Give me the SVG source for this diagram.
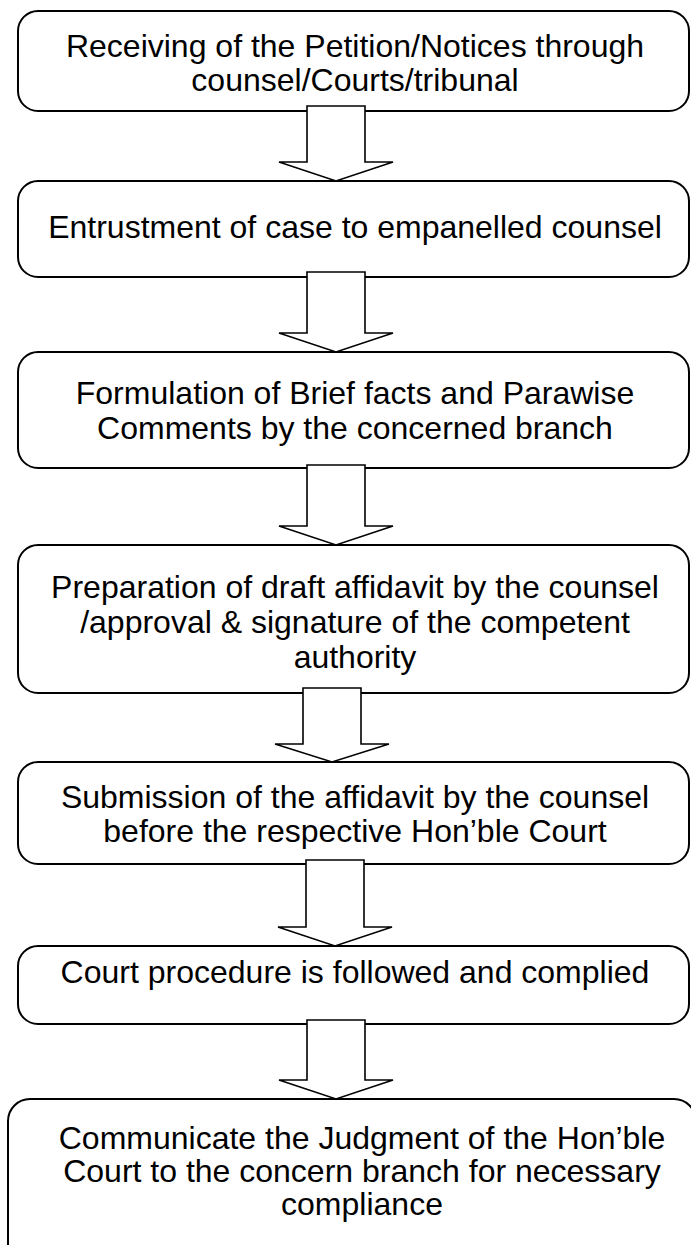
<svg xmlns="http://www.w3.org/2000/svg" width="691" height="1245" viewBox="0 0 691 1245">
  <style>
    .box { fill: #ffffff; stroke: #000000; stroke-width: 2; }
    .arrow { fill: #ffffff; stroke: #000000; stroke-width: 1.6; stroke-linejoin: miter; }
    .label { font-family: "Liberation Sans", Arial, sans-serif; font-size: 32px; fill: #000000; text-anchor: middle; }
  </style>
  <rect width="691" height="1245" fill="#ffffff"/>

  <g id="node-receive">
    <rect class="box" x="18" y="11" width="671" height="100" rx="20" ry="20"/>
    <text class="label" x="355" y="57">Receiving of the Petition/Notices through</text>
    <text class="label" x="355" y="91">counsel/Courts/tribunal</text>
  </g>

  <g id="node-entrust">
    <rect class="box" x="18" y="181" width="671" height="96" rx="20" ry="20"/>
    <text class="label" x="355" y="238">Entrustment of case to empanelled counsel</text>
  </g>

  <g id="node-brief">
    <rect class="box" x="18" y="352" width="671" height="116" rx="20" ry="20"/>
    <text class="label" x="355" y="404">Formulation of Brief facts and Parawise</text>
    <text class="label" x="355" y="439">Comments by the concerned branch</text>
  </g>

  <g id="node-affidavit">
    <rect class="box" x="18" y="545" width="671" height="148" rx="20" ry="20"/>
    <text class="label" x="355" y="598">Preparation of draft affidavit by the counsel</text>
    <text class="label" x="355" y="633">/approval &amp; signature of the competent</text>
    <text class="label" x="355" y="668">authority</text>
  </g>

  <g id="node-submit">
    <rect class="box" x="18" y="762" width="671" height="102" rx="20" ry="20"/>
    <text class="label" x="355" y="808">Submission of the affidavit by the counsel</text>
    <text class="label" x="355" y="842">before the respective Hon’ble Court</text>
  </g>

  <g id="node-court">
    <rect class="box" x="18" y="946" width="671" height="78" rx="20" ry="20"/>
    <text class="label" x="355" y="983">Court procedure is followed and complied</text>
  </g>

  <g id="node-communicate">
    <rect class="box" x="8" y="1099" width="688" height="180" rx="22" ry="22"/>
    <text class="label" x="362" y="1149">Communicate the Judgment of the Hon’ble</text>
    <text class="label" x="362" y="1182">Court to the concern branch for necessary</text>
    <text class="label" x="362" y="1215">compliance</text>
  </g>

  <!-- hollow block arrows, drawn over the lower edge of the step above -->
  <g id="connectors">
    <path class="arrow" d="M307 106 H365 V162 H393 L336 181 L279 162 H307 Z"/>
    <path class="arrow" d="M307 272 H365 V333 H393 L336 352 L279 333 H307 Z"/>
    <path class="arrow" d="M307 465 H365 V526 H393 L336 545 L279 526 H307 Z"/>
    <path class="arrow" d="M303 688 H361 V744 H389 L332 762 L275 744 H303 Z"/>
    <path class="arrow" d="M306 860 H364 V927 H392 L335 946 L278 927 H306 Z"/>
    <path class="arrow" d="M307 1020 H365 V1080 H393 L336 1099 L279 1080 H307 Z"/>
  </g>
</svg>
